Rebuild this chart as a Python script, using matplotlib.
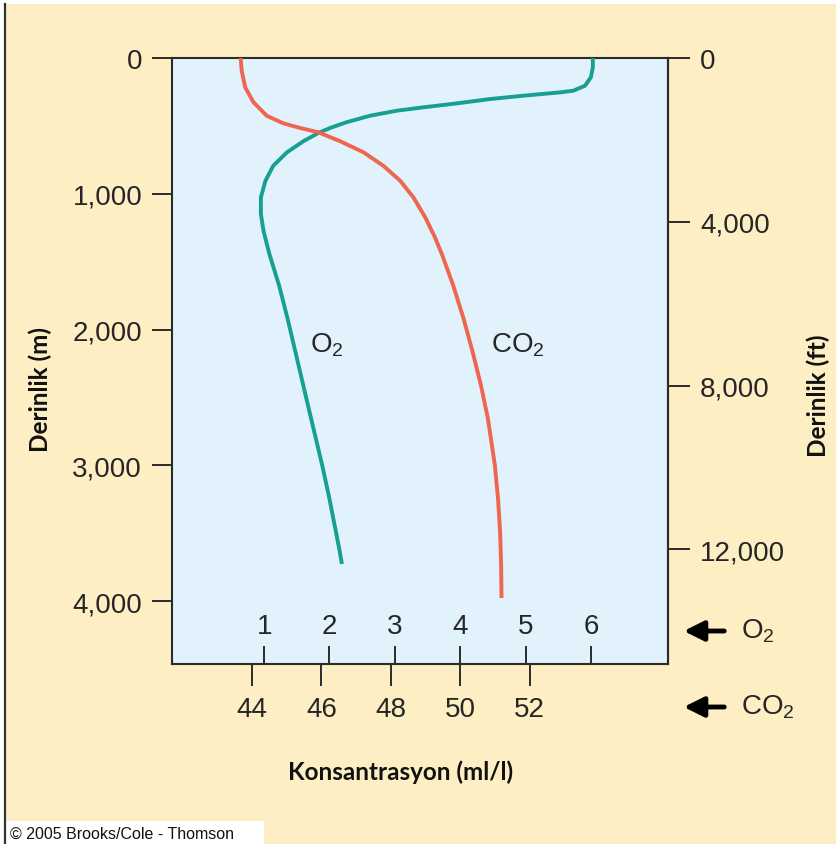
import matplotlib
matplotlib.use("Agg")
import matplotlib.pyplot as plt
from matplotlib.patches import Rectangle, FancyArrowPatch
from matplotlib.lines import Line2D
from matplotlib.ticker import FuncFormatter

plt.rcParams['font.family'] = ['Liberation Sans', 'DejaVu Sans']
plt.rcParams['mathtext.fontset'] = 'custom'
plt.rcParams['mathtext.rm'] = 'Liberation Sans'
plt.rcParams['mathtext.it'] = 'Liberation Sans'

# ---------------- data ----------------
o2_depth = [0, 68, 142, 204, 241, 253, 278, 302, 334, 363, 388, 425, 473, 515,
            552, 613, 694, 793, 904, 1026, 1149, 1272, 1443, 1677, 1922, 2167,
            2413, 2658, 3002, 3247, 3616, 3726]
o2_conc = [6.03, 6.03, 6.00, 5.91, 5.73, 5.53, 4.96, 4.46, 3.95, 3.44, 3.03, 2.62,
           2.26, 2.01, 1.83, 1.60, 1.35, 1.14, 1.02, 0.95, 0.95, 0.99, 1.08, 1.23,
           1.36, 1.48, 1.60, 1.72, 1.89, 2.00, 2.15, 2.19]

co2_depth = [0, 94, 216, 326, 425, 481, 515, 547, 613, 694, 793, 904, 1026, 1173,
             1320, 1443, 1677, 1922, 2167, 2413, 2658, 3002, 3247, 3493, 3739, 3976]
co2_conc = [43.67, 43.70, 43.80, 44.04, 44.42, 44.90, 45.38, 45.91, 46.54, 47.21,
            47.78, 48.27, 48.65, 48.99, 49.27, 49.47, 49.80, 50.10, 50.36, 50.60,
            50.80, 51.00, 51.09, 51.15, 51.18, 51.19]

depth_ticks_m = [0, 1000, 2000, 3000, 4000]
depth_ticks_ft = [0, 4000, 8000, 12000]
o2_ticks = [1, 2, 3, 4, 5, 6]
co2_ticks = [44, 46, 48, 50, 52]

# ---------------- styling ----------------
BG = '#FDEFC3'
PLOT_BG = '#E1F2FC'
TEAL = '#16A092'
RED = '#EE6650'
DARK = '#2b2b2b'
TXT = '#262626'
M_PER_FT = 0.3015

W, H = 837, 845
fig = plt.figure(figsize=(W / 100, H / 100), dpi=100, facecolor=BG)

# frame decorations
fig.patches.append(Rectangle((0, 1 - 5 / H), 1, 5 / H, transform=fig.transFigure,
                             facecolor='white', edgecolor='none', zorder=0))
fig.patches.append(Rectangle((0, 0), 5 / W, 1, transform=fig.transFigure,
                             facecolor='white', edgecolor='none', zorder=0))
fig.lines.append(Line2D([5.5 / W, 5.5 / W], [0, 1 - 5 / H], transform=fig.transFigure,
                        color='#333333', lw=1.6))

left, right, top, bottom = 172, 668, 59, 665
ax = fig.add_axes([left / W, 1 - bottom / H, (right - left) / W, (bottom - top) / H])
ax.set_facecolor(PLOT_BG)

ax.set_ylim(4462, 0)
ax.set_xlim(-0.41, 7.18)

ax.plot(o2_conc, o2_depth, color=TEAL, lw=2.8, solid_joinstyle='round',
        solid_capstyle='butt', zorder=3)

for s in ax.spines.values():
    s.set_color(DARK)
    s.set_linewidth(1.5)

# left depth axis
ax.set_yticks(depth_ticks_m)
ax.yaxis.set_major_formatter(FuncFormatter(lambda v, p: f"{int(v):,}"))
ax.tick_params(axis='y', direction='out', length=14.5, width=1.4, color=DARK,
               pad=7, labelsize=20, labelcolor=TXT)

# O2 axis (inside, labels above ticks)
ax.set_xticks(o2_ticks)
ax.set_xticklabels([str(t) for t in o2_ticks])
ax.tick_params(axis='x', direction='in', length=13, width=1.4, color=DARK,
               pad=-37, labelsize=20, labelcolor=TXT)

# CO2 axis
ax2 = ax.twiny()
ax2.set_xlim(41.69, 55.99)
ax2.plot(co2_conc, co2_depth, color=RED, lw=2.8, solid_joinstyle='round',
         solid_capstyle='butt', zorder=3)
ax2.xaxis.set_ticks_position('bottom')
ax2.set_xticks(co2_ticks)
ax2.tick_params(axis='x', direction='out', length=16, width=1.4, color=DARK,
                pad=7, labelsize=20, labelcolor=TXT, top=False)
for s in ax2.spines.values():
    s.set_visible(False)

# right depth axis in feet
sec = ax.secondary_yaxis('right', functions=(lambda m: m / M_PER_FT, lambda f: f * M_PER_FT))
sec.set_yticks(depth_ticks_ft)
sec.yaxis.set_major_formatter(FuncFormatter(lambda v, p: f"{int(round(v)):,}"))
sec.tick_params(axis='y', direction='out', length=16, width=1.4, color=DARK,
                pad=7, labelsize=20, labelcolor=TXT)
sec.spines['right'].set_color(DARK)
sec.spines['right'].set_linewidth(1.5)

# curve labels
ax.text(1.96, 2106, 'O$_2$', fontsize=20, color=TXT, ha='center', va='center')
ax2.text(51.65, 2106, 'CO$_2$', fontsize=20, color=TXT, ha='center', va='center')

# axis titles
lab_font = dict(family=['Lato', 'DejaVu Sans'], fontweight='bold', fontsize=17.5, color='#111111')
fig.text(401 / W, 1 - 772 / H, 'Konsantrasyon (ml/l)', ha='center', va='center', **lab_font)
fig.text(40 / W, 1 - 390 / H, 'Derinlik (m)', ha='center', va='center', rotation=90, **lab_font)
fig.text(818 / W, 1 - 396 / H, 'Derinlik (ft)', ha='center', va='center', rotation=90, **lab_font)

# arrows on the right
for yy, lab in [(632, 'O$_2$'), (708, 'CO$_2$')]:
    fig.add_artist(FancyArrowPatch(
        (727 / W, 1 - yy / H), (681 / W, 1 - yy / H), transform=fig.transFigure,
        arrowstyle='-|>,head_length=12,head_width=6', mutation_scale=1,
        color='black', lw=3.5))
    fig.text(741 / W, 1 - (yy - 1) / H, lab, fontsize=20, color=TXT,
             ha='left', va='center')

# copyright box
fig.patches.append(Rectangle((5.5 / W, 0), 258 / W, 23 / H, transform=fig.transFigure,
                             facecolor='white', edgecolor='none', zorder=1))
fig.text(10 / W, 1 - 834 / H, '\u00a9 2005 Brooks/Cole - Thomson', fontsize=11.5,
         color='#111111', ha='left', va='center', zorder=2)

fig.savefig('out.png', dpi=100, facecolor=BG)
